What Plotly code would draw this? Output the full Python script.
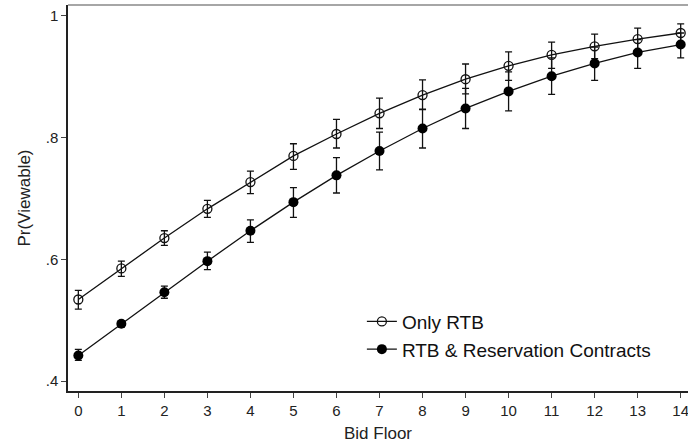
import plotly.graph_objects as go

bid_floor = list(range(15))
x_tick_labels = [str(v) for v in bid_floor]

only_rtb = [0.534, 0.585, 0.635, 0.683, 0.727, 0.770, 0.806, 0.840, 0.870, 0.896, 0.918, 0.936, 0.950, 0.962, 0.972]
only_rtb_hi = [0.549, 0.597, 0.647, 0.697, 0.745, 0.790, 0.830, 0.865, 0.895, 0.921, 0.941, 0.957, 0.970, 0.980, 0.987]
only_rtb_lo = [0.518, 0.572, 0.623, 0.669, 0.708, 0.748, 0.783, 0.815, 0.847, 0.872, 0.894, 0.914, 0.930, 0.944, 0.956]

rtb_res = [0.442, 0.494, 0.546, 0.597, 0.647, 0.694, 0.738, 0.778, 0.815, 0.848, 0.876, 0.901, 0.922, 0.940, 0.953]
rtb_res_hi = [0.452, 0.499, 0.556, 0.612, 0.665, 0.718, 0.767, 0.809, 0.846, 0.881, 0.908, 0.931, 0.949, 0.961, 0.972]
rtb_res_lo = [0.434, 0.489, 0.536, 0.583, 0.628, 0.669, 0.709, 0.747, 0.783, 0.815, 0.844, 0.871, 0.894, 0.914, 0.931]

y_tick_vals = [0.4, 0.6, 0.8, 1.0]
y_tick_labels = [".4", ".6", ".8", "1"]

FONT = "Liberation Sans, Arial, sans-serif"

def err(vals, hi, lo):
    return dict(type="data", symmetric=False,
                array=[h - v for h, v in zip(hi, vals)],
                arrayminus=[v - l for v, l in zip(vals, lo)],
                color="#111", thickness=1.3, width=3.5)

fig = go.Figure()
fig.add_trace(go.Scatter(
    x=bid_floor, y=only_rtb, mode="lines+markers", name="Only RTB",
    legendgroup="a",
    line=dict(color="#111", width=1.3),
    marker=dict(symbol="circle-open", size=9, color="#111", line=dict(width=1.3)),
    error_y=err(only_rtb, only_rtb_hi, only_rtb_lo), cliponaxis=False))
fig.add_trace(go.Scatter(
    x=bid_floor, y=rtb_res, mode="lines+markers", name="RTB & Reservation Contracts",
    legendgroup="b",
    line=dict(color="#111", width=1.3),
    marker=dict(symbol="circle", size=10, color="#000"),
    error_y=err(rtb_res, rtb_res_hi, rtb_res_lo), cliponaxis=False))

fig.update_layout(
    width=688, height=445,
    margin=dict(l=68, r=0, t=5, b=54),
    paper_bgcolor="white", plot_bgcolor="white",
    font=dict(family=FONT, size=15, color="#222"),
    showlegend=True,
    legend=dict(x=0.474, y=0.229, xanchor="left", yanchor="top",
                bgcolor="rgba(0,0,0,0)", font=dict(size=19, color="#111"),
                traceorder="grouped", tracegroupgap=0),
    xaxis=dict(range=[-0.24, 14.17], tickmode="array", tickvals=bid_floor,
               ticktext=x_tick_labels, ticks="outside", ticklen=5, tickcolor="#444",
               tickfont=dict(size=15), ticklabeloverflow="allow",
               showline=True, linecolor="#222", linewidth=1.5, showgrid=False,
               zeroline=False, title=dict(text="Bid Floor", font=dict(size=17), standoff=9)),
    yaxis=dict(range=[0.3836, 1.018], tickmode="array", tickvals=y_tick_vals,
               ticktext=y_tick_labels, ticks="outside", ticklen=5, tickcolor="#444",
               tickfont=dict(size=15), ticklabeloverflow="allow",
               showline=True, linecolor="#222", linewidth=1.5, showgrid=False,
               zeroline=False, title=dict(text="Pr(Viewable)", font=dict(size=17), standoff=11)),
    shapes=[dict(type="line", xref="paper", yref="paper", x0=0, x1=1, y0=1, y1=1,
                 line=dict(color="#888", width=1.5))],
)

fig.write_html("out.html", config={"displayModeBar": False},
               post_script="document.body.style.margin='0';")
